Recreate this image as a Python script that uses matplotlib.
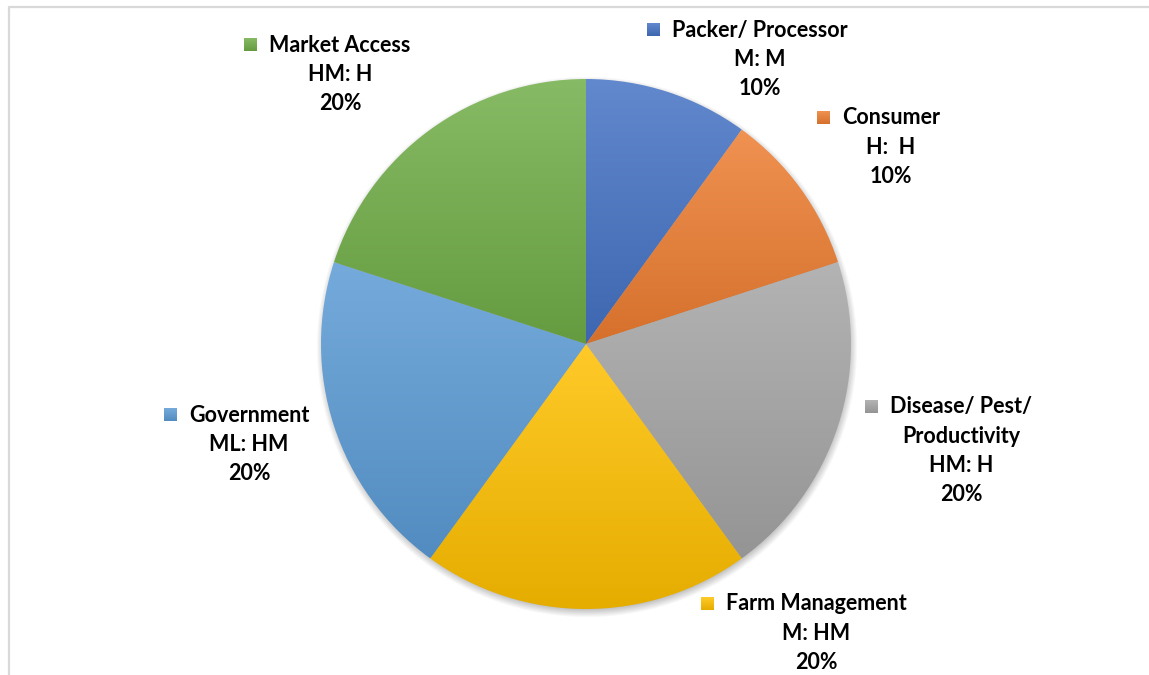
import numpy as np
import matplotlib
matplotlib.use("Agg")
import matplotlib.pyplot as plt
from matplotlib.colors import to_rgb

# Survey categories, rating pairs and shares
categories = ["Packer/ Processor", "Consumer", "Disease/ Pest/\nProductivity",
              "Farm Management", "Government", "Market Access"]
ratings = ["M: M", "H:  H", "HM: H", "M: HM", "ML: HM", "HM: H"]
shares = [10, 10, 20, 20, 20, 20]
colors = ["#4472C4", "#ED7D31", "#A5A5A5", "#FFC000", "#5B9BD5", "#70AD47"]

W, H = 1149, 675
fig = plt.figure(figsize=(W / 100, H / 100), dpi=100)
ax = fig.add_axes([0, 0, 1, 1])

cx, cy, R = 586, H - 344, 265

# outer chart frame
ax.plot([9, 9, W + 5], [-5, H - 7, H - 7], color="#d9d9d9", lw=1.6,
        solid_capstyle="butt", zorder=0)

# soft drop shadow under the pie
gx = np.arange(cx - R - 30, cx + R + 30)
gy = np.arange(cy - R - 30, cy + R + 30)
X, Y = np.meshgrid(gx, gy)
d = np.hypot(X - (cx + 1), Y - (cy - 3))
alpha = np.clip((R + 6 - d) / 12.0, 0, 1) * 0.45
shadow = np.zeros(X.shape + (4,))
shadow[..., :3] = 0.25
shadow[..., 3] = alpha
ax.imshow(shadow, extent=(gx[0], gx[-1], gy[0], gy[-1]), origin="lower",
          zorder=1, interpolation="bilinear")

wedges, _ = ax.pie(shares, colors=colors, startangle=90, counterclock=False,
                   center=(cx, cy), radius=R, frame=True,
                   wedgeprops=dict(linewidth=0))


def lighten(c, f):
    c = np.array(to_rgb(c))
    return c + (1 - c) * f


def darken(c, f):
    return np.array(to_rgb(c)) * f


def vgrad(c, n=256):
    t = np.linspace(0, 1, n)[:, None]
    g = darken(c, 0.90)[None, :] * (1 - t) + lighten(c, 0.16)[None, :] * t
    return np.repeat(g[:, None, :], 2, axis=1)


# vertical gradient fill per slice, lighter at the top
for w, c in zip(wedges, colors):
    w.set_zorder(2)
    bb = w.get_path().get_extents(w.get_transform() - ax.transData)
    im = ax.imshow(vgrad(c), extent=(bb.x0, bb.x1, bb.y0, bb.y1), origin="lower",
                   aspect="auto", zorder=3, interpolation="bilinear")
    im.set_clip_path(w)
    w.set_facecolor("none")

ax.set_xlim(0, W)
ax.set_ylim(0, H)
ax.set_aspect("equal")
ax.axis("off")

# label blocks: (centre x, first-line y) in pixel space
label_pos = [(760, 30), (891, 118), (961, 407), (816, 604), (249, 415), (340, 45)]
font = dict(family=["Lato", "DejaVu Sans"], weight="bold", size=15.5, color="black")
line_h = 29.2

fig.canvas.draw()
renderer = fig.canvas.get_renderer()
for name, rate, pct, (x, y), c in zip(categories, ratings, shares, label_pos, colors):
    lines = name.split("\n") + [rate, f"{pct}%"]
    first = None
    for i, ln in enumerate(lines):
        t = ax.text(x, H - (y + i * line_h), ln, ha="center", va="center",
                    zorder=5, **font)
        if i == 0:
            first = t
    bb = first.get_window_extent(renderer).transformed(ax.transData.inverted())
    s = 13
    mx = bb.x0 - 12 - s
    my = H - y - s / 2
    ax.imshow(vgrad(c, 64), extent=(mx, mx + s, my, my + s),
              origin="lower", aspect="auto", zorder=5)

ax.set_xlim(0, W)
ax.set_ylim(0, H)
fig.savefig("out.png", dpi=100)
